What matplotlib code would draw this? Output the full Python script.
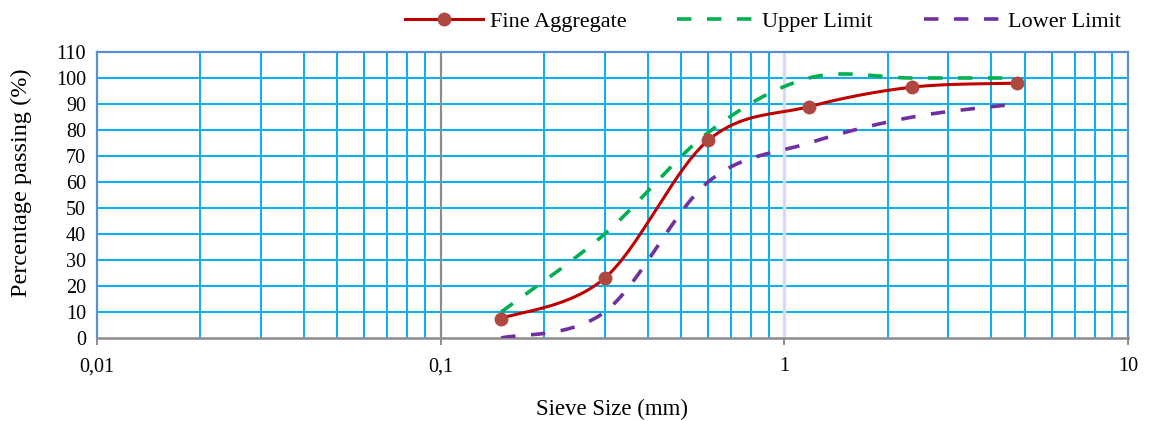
import numpy as np
import matplotlib
matplotlib.use("Agg")
import matplotlib.pyplot as plt
from matplotlib.lines import Line2D

# ---- data ----
sieve_mm = [0.15, 0.3, 0.6, 1.18, 2.36, 4.75]
fine_agg = [7.5, 23, 76, 89, 96.5, 98]
upper_limit = [10, 40, 79, 100, 100, 100]
lower_limit = [0, 10, 60, 75, 85, 90]
x_ticks = [0.01, 0.1, 1, 10]
x_ticklabels = ["0,01", "0,1", "1", "10"]
y_ticks = list(range(0, 111, 10))

plt.rcParams['font.family'] = ['Liberation Serif', 'DejaVu Serif']


def smooth(xs, ys, n=40):
    """Excel-style smoothed line (Bezier through points) in log-x space."""
    lx = np.log10(np.asarray(xs, float))
    y = np.asarray(ys, float)
    P = np.column_stack([lx, y])
    m = len(P)
    out = []
    t = np.linspace(0, 1, n)[:, None]
    for i in range(m - 1):
        p0 = P[i - 1] if i > 0 else P[i]
        p1, p2 = P[i], P[i + 1]
        p3 = P[i + 2] if i + 2 < m else P[i + 1]
        c1 = p1 + (p2 - p0) / 6.0
        c2 = p2 - (p3 - p1) / 6.0
        seg = ((1 - t) ** 3) * p1 + 3 * ((1 - t) ** 2) * t * c1 + 3 * (1 - t) * t ** 2 * c2 + t ** 3 * p2
        out.append(seg if i == 0 else seg[1:])
    arr = np.vstack(out)
    return 10 ** arr[:, 0], arr[:, 1]


W, H = 1150, 421
fig = plt.figure(figsize=(W / 100, H / 100), dpi=100)
ax = fig.add_axes([97 / W, 1 - 338 / H, (1128 - 97) / W, (338 - 52) / H])
ax.set_xscale('log')
ax.set_xlim(0.01, 10)
ax.set_ylim(0, 110)

grid_c = '#00B0F0'
# vertical minor grid
for dec in [0.01, 0.1, 1]:
    for k in range(2, 10):
        ax.axvline(dec * k, color=grid_c, lw=1.4, zorder=1)
# horizontal grid
for yv in y_ticks[1:-1]:
    ax.axhline(yv, color=grid_c, lw=1.4, zorder=1)
ax.axvline(0.1, color='#8C8C8C', lw=1.6, zorder=1.5)
ax.axvline(1, color='#D5DCF2', lw=2.4, zorder=1.5)

# series
gx, gy = smooth(sieve_mm, upper_limit)
ax.plot(gx, gy, color='#00B050', lw=2.6, dashes=(4, 4.3), zorder=3)
lx_, ly_ = smooth(sieve_mm, lower_limit)
ax.plot(lx_, ly_, color='#7030A0', lw=2.6, dashes=(4, 4.3), zorder=3)
fx, fy = smooth(sieve_mm, fine_agg)
ax.plot(fx, fy, color='#C00000', lw=2.2, zorder=4)
ax.plot(sieve_mm, fine_agg, 'o', color='#B04842', ms=9, zorder=5, mec='#B04842')

# spines
for s in ['left', 'top', 'right']:
    ax.spines[s].set_color('#5B8FD0')
    ax.spines[s].set_linewidth(1.6)
ax.spines['bottom'].set_color('#8C8C8C')
ax.spines['bottom'].set_linewidth(1.8)

ax.set_xticks(x_ticks)
ax.set_xticklabels(x_ticklabels)
ax.xaxis.set_minor_locator(matplotlib.ticker.NullLocator())
ax.set_yticks(y_ticks)
ax.tick_params(axis='x', which='major', length=5, width=1.4, color='#8C8C8C',
               labelsize=14.5, pad=9, direction='out')
ax.tick_params(axis='y', length=0, labelsize=14.5, pad=8)

ax.set_xlabel('Sieve Size (mm)', fontsize=16.5, labelpad=16)
ax.set_ylabel('Percentage passing (%)', fontsize=17.5)
ax.yaxis.set_label_coords(-0.063, 0.542)

handles = [
    Line2D([], [], color='#C00000', lw=2.2, marker='o', ms=9, mfc='#B04842', mec='#B04842'),
    Line2D([], [], color='#00B050', lw=2.6, dashes=(4, 4.3)),
    Line2D([], [], color='#7030A0', lw=2.6, dashes=(4, 4.3)),
]
fig.legend(handles, ['Fine Aggregate', 'Upper Limit', 'Lower Limit'], ncol=3,
           loc='center right', bbox_to_anchor=(1121 / W, 1 - 22 / H), frameon=False,
           fontsize=16, handlelength=3.5, handletextpad=0.3, columnspacing=2.3,
           borderpad=0, borderaxespad=0)

fig.savefig('out.png', dpi=100)
